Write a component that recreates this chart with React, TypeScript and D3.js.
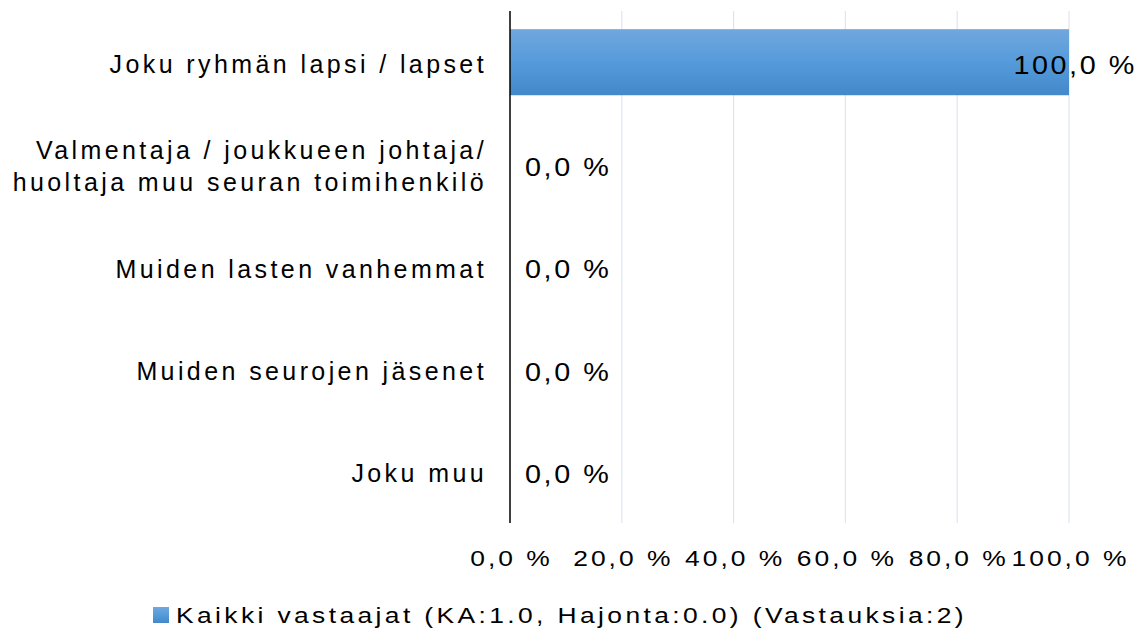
import * as d3 from "d3";

const categories = [
  ["Joku ryhmän lapsi / lapset"],
  ["Valmentaja / joukkueen johtaja/", "huoltaja muu seuran toimihenkilö"],
  ["Muiden lasten vanhemmat"],
  ["Muiden seurojen jäsenet"],
  ["Joku muu"],
];
const values = [100, 0, 0, 0, 0];
const ticks = [0, 20, 40, 60, 80, 100];
const legendLabel = "Kaikki vastaajat (KA:1.0, Hajonta:0.0) (Vastauksia:2)";

const fmt = (v: number) => v.toFixed(1).replace(".", ",") + " %";

const W = 1141;
const H = 632;
const margin = { top: 11, right: 72, bottom: 109, left: 510 };
const font = "'Liberation Sans', Arial, sans-serif";

// the source renders its labels a bit wider than Arial
const stretch = (px: number, py: number, sx: number) =>
  `translate(${px},${py}) scale(${sx},1)`;

export default function App() {
  const x = d3
    .scaleLinear()
    .domain([0, 100])
    .range([margin.left, W - margin.right]);
  const band = (H - margin.bottom - margin.top) / categories.length;
  const center = (i: number) => margin.top + band * (i + 0.5);
  const barH = band * 0.645;
  const maxV = d3.max(values) ?? 0;

  return (
    <svg
      width={W}
      height={H}
      style={{ position: "absolute", left: 0, top: 0, background: "#fff" }}
      fontFamily={font}
    >
      <defs>
        <linearGradient id="barGrad" x1="0" y1="0" x2="0" y2="1">
          <stop offset="0%" stopColor="#71a7de" />
          <stop offset="50%" stopColor="#559bdb" />
          <stop offset="100%" stopColor="#4388c9" />
        </linearGradient>
      </defs>

      {/* Grid lines */}
      {ticks
        .filter((t) => t > 0)
        .map((t) => (
          <line
            key={t}
            x1={x(t)}
            x2={x(t)}
            y1={margin.top}
            y2={H - margin.bottom}
            stroke="#dde6f0"
            strokeWidth={1.2}
          />
        ))}

      {/* Bars */}
      {values.map((v, i) => (
        <rect
          key={i}
          x={x(0)}
          y={center(i) - barH / 2}
          width={x(v) - x(0)}
          height={barH}
          fill="url(#barGrad)"
        />
      ))}

      {/* Axis line */}
      <line
        x1={x(0)}
        x2={x(0)}
        y1={margin.top}
        y2={H - margin.bottom}
        stroke="#000"
        strokeWidth={1.5}
      />

      {/* Category labels */}
      {categories.map((lines, i) => (
        <text
          key={i}
          x={487}
          y={center(i)}
          textAnchor="end"
          fontSize={25}
          letterSpacing={3.4}
          fill="#000"
        >
          {lines.map((l, j) => (
            <tspan
              key={j}
              x={487}
              dy={
                j === 0
                  ? `${0.42 - ((lines.length - 1) * 1.28) / 2}em`
                  : "1.28em"
              }
            >
              {l}
            </tspan>
          ))}
        </text>
      ))}

      {/* Value labels */}
      {values.map((v, i) => (
        <text
          key={i}
          transform={stretch(v === maxV ? W - 4 : x(v) + 15, center(i) + 11.4, 1.15)}
          textAnchor={v === maxV ? "end" : "start"}
          fontSize={25}
          letterSpacing={2.25}
          fill="#000"
        >
          {fmt(v)}
        </text>
      ))}

      {/* X tick labels */}
      {ticks.map((t) => (
        <text
          key={t}
          transform={stretch(x(t) + 1.5, 566, 1.2)}
          textAnchor="middle"
          fontSize={22}
          letterSpacing={2.5}
          fill="#000"
        >
          {fmt(t)}
        </text>
      ))}

      {/* Legend */}
      <rect x={153} y={607} width={16} height={16} fill="url(#barGrad)" />
      <text
        transform={stretch(176, 623, 1.2)}
        fontSize={22}
        letterSpacing={2.83}
        fill="#000"
      >
        {legendLabel}
      </text>
    </svg>
  );
}
